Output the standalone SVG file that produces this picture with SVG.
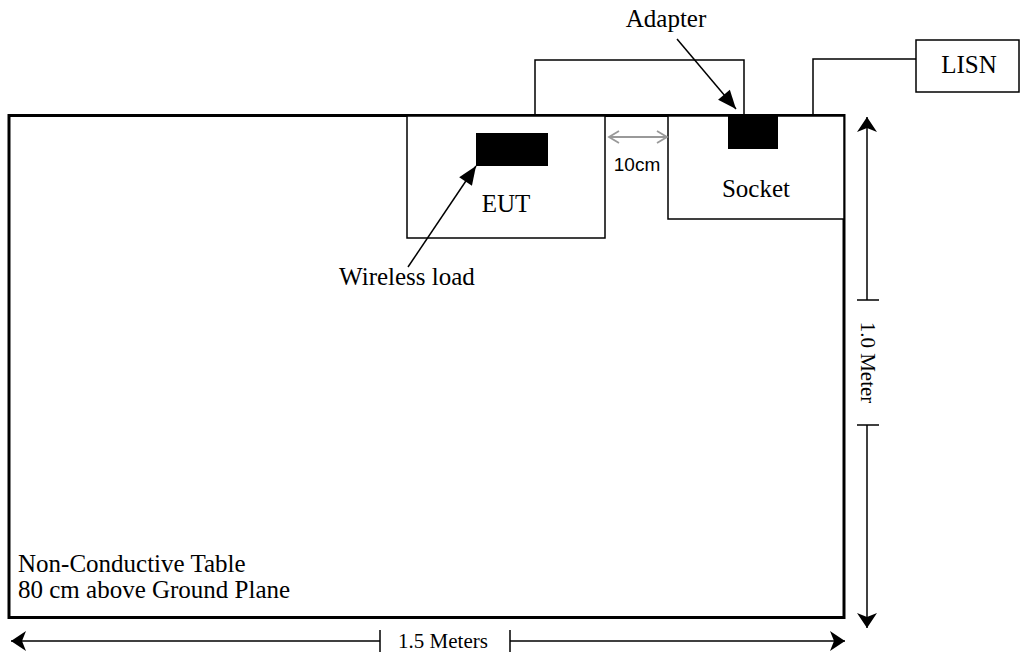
<svg xmlns="http://www.w3.org/2000/svg" width="1020" height="657" viewBox="0 0 1020 657">
  <defs>
    <style>
      .t { font-family: "Liberation Serif", "Times New Roman", serif; font-size: 25px; fill: #000; }
      .d { font-family: "Liberation Serif", "Times New Roman", serif; font-size: 21px; fill: #000; }
      .s { font-family: "Liberation Sans", Arial, sans-serif; font-size: 19px; fill: #000; }
      .box { fill: #fff; stroke: #000; stroke-width: 1.5; }
      .wire { fill: none; stroke: #000; stroke-width: 1.5; }
      .dim { fill: none; stroke: #000; stroke-width: 1.5; }
    </style>
    <marker id="dimArrow" markerUnits="userSpaceOnUse" markerWidth="24" markerHeight="24" viewBox="-16 -12 20 24" refX="0" refY="0" orient="auto-start-reverse">
      <path d="M -15 -10 L 0 0 L -15 10 L -11 0 Z" fill="#000"/>
    </marker>
    <marker id="solidArrow" markerUnits="userSpaceOnUse" markerWidth="22" markerHeight="22" viewBox="-18 -10 20 20" refX="0" refY="0" orient="auto">
      <path d="M -17 -7 L 0 0 L -17 7 Z" fill="#000"/>
    </marker>
    <marker id="greyArrow" markerUnits="userSpaceOnUse" markerWidth="16" markerHeight="16" viewBox="-12 -8 14 16" refX="0" refY="0" orient="auto-start-reverse">
      <path d="M -10 -6 L 0 0 L -10 6" fill="none" stroke="#999" stroke-width="1.8"/>
    </marker>
  </defs>

  <g id="table">
    <rect x="9" y="115.5" width="835" height="502" fill="#fff" stroke="#000" stroke-width="3"/>
    <text class="t" x="18" y="572">Non-Conductive Table</text>
    <text class="t" x="18" y="598">80 cm above Ground Plane</text>
  </g>

  <g id="eut">
    <rect class="box" x="407" y="116" width="198" height="122"/>
    <rect x="476" y="133" width="72" height="33" fill="#000"/>
    <text class="t" x="506" y="212" text-anchor="middle">EUT</text>
  </g>

  <g id="socket">
    <rect class="box" x="668" y="116" width="176" height="103"/>
    <rect x="728" y="115" width="50" height="34" fill="#000"/>
    <text class="t" x="756" y="197" text-anchor="middle">Socket</text>
  </g>

  <g id="lisn">
    <rect class="box" x="916" y="40" width="103" height="52"/>
    <text class="t" x="969" y="73" text-anchor="middle">LISN</text>
  </g>

  <g id="connectors">
    <polyline class="wire" points="535,115 535,60 744,60 744,115"/>
    <polyline class="wire" points="813,115 813,59 916,59"/>
    <line x1="677" y1="39" x2="736" y2="109" stroke="#000" stroke-width="1.5" marker-end="url(#solidArrow)"/>
    <line x1="408" y1="267" x2="476" y2="166" stroke="#000" stroke-width="1.5" marker-end="url(#solidArrow)"/>
    <line x1="609" y1="137" x2="667" y2="137" stroke="#999" stroke-width="1.8" marker-start="url(#greyArrow)" marker-end="url(#greyArrow)"/>
  </g>

  <g id="labels">
    <text class="t" x="666" y="27" text-anchor="middle">Adapter</text>
    <text class="s" x="637" y="171" text-anchor="middle">10cm</text>
    <text class="t" x="407" y="285" text-anchor="middle">Wireless load</text>
  </g>

  <g id="dimensions">
    <line class="dim" x1="867" y1="300" x2="867" y2="117" marker-end="url(#dimArrow)"/>
    <line class="dim" x1="867" y1="425" x2="867" y2="628" marker-end="url(#dimArrow)"/>
    <line class="dim" x1="857" y1="300" x2="879" y2="300"/>
    <line class="dim" x1="857" y1="425" x2="879" y2="425"/>
    <text class="d" transform="translate(861,362.5) rotate(90)" text-anchor="middle">1.0 Meter</text>
    <line class="dim" x1="380" y1="641" x2="11" y2="641" marker-end="url(#dimArrow)"/>
    <line class="dim" x1="510" y1="641" x2="845" y2="641" marker-end="url(#dimArrow)"/>
    <line class="dim" x1="380" y1="630" x2="380" y2="652"/>
    <line class="dim" x1="510" y1="630" x2="510" y2="652"/>
    <text class="d" x="443" y="648" text-anchor="middle">1.5 Meters</text>
  </g>
</svg>
